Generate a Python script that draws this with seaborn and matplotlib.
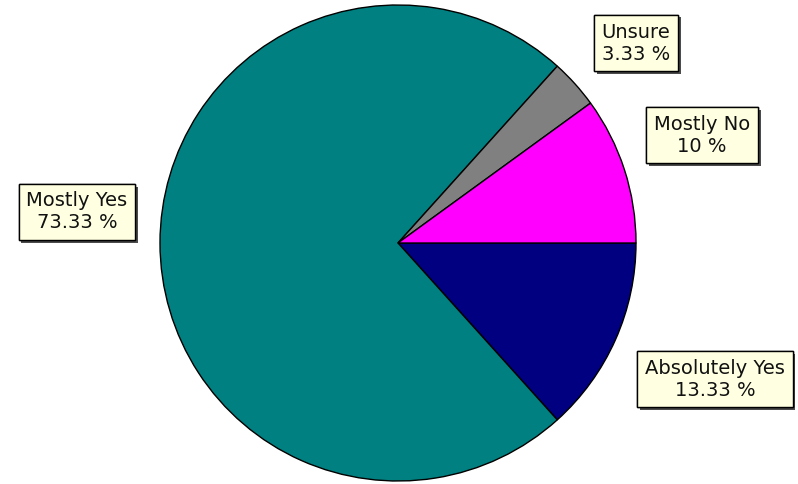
import matplotlib
matplotlib.use("Agg")
import matplotlib.pyplot as plt
import matplotlib.patheffects as pe
import seaborn as sns

categories = ["Absolutely Yes", "Mostly Yes", "Unsure", "Mostly No"]
values = [13.33, 73.33, 3.33, 10.0]
colors = ["#000080", "#008080", "#808080", "#FF00FF"]
# label box centres in pixel coordinates (x from left, y from top)
label_px = [(715, 379), (77, 212), (636, 43), (702, 135)]

sns.set_theme(style="white")
plt.rcParams['font.family'] = ['DejaVu Sans']

W, H = 798, 484
fig = plt.figure(figsize=(W / 100, H / 100), dpi=100)
ax = fig.add_axes([0, 0, 1, 1])

ax.pie(values, colors=colors, startangle=0, counterclock=False,
       center=(398, H - 243), radius=238, frame=True,
       wedgeprops=dict(edgecolor="black", linewidth=1.0))
ax.set_xlim(0, W)
ax.set_ylim(0, H)
ax.set_aspect("equal")
ax.axis("off")

def fmt(v):
    s = f"{v:.2f}".rstrip("0").rstrip(".")
    return f"{s} %"

for cat, v, (px, py) in zip(categories, values, label_px):
    t = ax.text(px, H - py, f"{cat}\n{fmt(v)}", ha="center", va="center",
                fontsize=14, color="#111111", linespacing=1.2,
                multialignment="center",
                bbox=dict(boxstyle="square,pad=0.4", facecolor="#FFFFE1",
                          edgecolor="black", linewidth=1.0))
    t.get_bbox_patch().set_path_effects([
        pe.withSimplePatchShadow(offset=(2, -2), shadow_rgbFace="black", alpha=0.7),
        pe.Normal()])

fig.savefig("out.png", dpi=100, facecolor="white")
